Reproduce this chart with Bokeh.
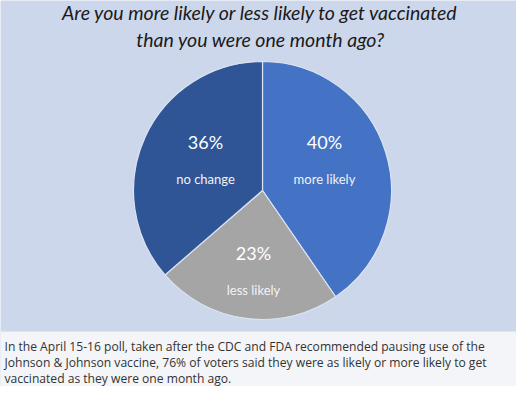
import numpy as np
from bokeh.plotting import figure
from bokeh.models import Range1d, ColumnDataSource
from bokeh.core.properties import value
from bokeh.embed import file_html
from bokeh.resources import INLINE

# ---- data ----
categories = ["more likely", "less likely", "no change"]
values = [40, 23, 36]
pct_labels = ["40%", "23%", "36%"]
colors = ["#4472C4", "#A5A5A5", "#2F5597"]

title_lines = ["Are you more likely or less likely to get vaccinated",
               "than you were one month ago?"]
note_lines = [
    "In the April 15-16 poll, taken after the CDC and FDA recommended pausing use of the",
    "Johnson & Johnson vaccine, 76% of voters said they were as likely or more likely to get",
    "vaccinated as they were one month ago.",
]

# ---- layout (pixel space, y measured downward) ----
W, H = 516, 386
cx, cy, R = 262, 190, 129
panel_top = 331
# label offsets from pie centre (px): percentage and caption
lab_dx = [62, -9, -57]
lab_dy = [-49, 62, -49]
cap_dy = 37

def Y(y):
    return H - y

p = figure(width=W, height=H, output_backend="svg", toolbar_location=None,
           x_range=Range1d(0, W), y_range=Range1d(0, H), min_border=0)
p.axis.visible = False
p.grid.visible = False
p.outline_line_color = None
p.background_fill_color = "#CDD7EB"
p.border_fill_color = "#CDD7EB"

# bottom note panel
p.quad(left=[0], right=[W], bottom=[0], top=[Y(panel_top)], fill_color="#F3F5F8",
       line_color=None)

# pie
total = float(sum(values))
frac = np.array(values) / total
cum = np.concatenate([[0.0], np.cumsum(frac)])
start = np.pi / 2 - 2 * np.pi * cum[:-1]
end = np.pi / 2 - 2 * np.pi * cum[1:]
src = ColumnDataSource(dict(cat=categories, val=values, start=start, end=end,
                            color=colors, x=[cx] * 3, y=[Y(cy)] * 3))
p.wedge(x="x", y="y", radius=R, start_angle="start", end_angle="end",
        direction="clock", fill_color="color", line_color="#DCE3F0",
        line_width=1.2, source=src)

# labels
lx = [cx + d for d in lab_dx]
ly = [Y(cy + d) for d in lab_dy]
p.text(x=lx, y=ly, text=pct_labels, text_font=value("Lato"), text_font_size="18px",
       text_color="white", text_align="center", text_baseline="middle")
p.text(x=lx, y=[v - cap_dy for v in ly], text=categories, text_font=value("Lato"),
       text_font_size="13px", text_color="#F2F2F2", text_align="center",
       text_baseline="middle")

# title
p.text(x=[260, 260], y=[Y(12), Y(39)], text=title_lines, text_font=value("Lato"),
       text_font_style="italic", text_font_size="19.5px", text_color="#1A1A1A",
       text_align="center", text_baseline="middle")

# note
p.text(x=[4, 4, 4], y=[Y(346), Y(362), Y(377.5)], text=note_lines,
       text_font=value("Open Sans"), text_font_size="12.1px", text_color="#333333",
       text_align="left", text_baseline="middle")

open("out.html", "w").write(file_html(p, INLINE))
